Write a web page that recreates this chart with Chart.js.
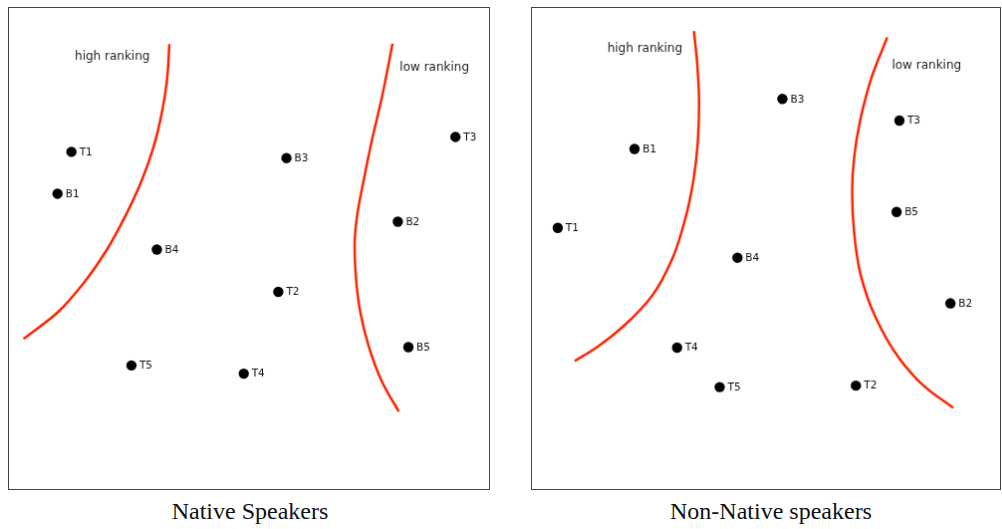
<!DOCTYPE html>
<html>
<head>
<meta charset="utf-8">
<script src="https://cdn.jsdelivr.net/npm/chart.js@4/dist/chart.umd.min.js"></script>
<style>
  body { margin: 0; background: #fff; width: 1002px; height: 529px; position: relative; overflow: hidden; }
  canvas { position: absolute; border: 1px solid #444; box-sizing: content-box; }
  .cap { position: absolute; top: 498px; font-family: "Liberation Serif", "DejaVu Serif", serif; font-size: 24px; color: #111; text-align: center; }
</style>
</head>
<body>
<canvas id="nativeChart" width="482" height="483" style="left:8px;top:7px"></canvas>
<canvas id="nonNativeChart" width="470" height="483" style="left:531px;top:7px"></canvas>
<div class="cap" style="left:8px;width:484px">Native Speakers</div>
<div class="cap" style="left:531px;width:480px">Non-Native speakers</div>
<script>
// Etiquetas de los estímulos
var nativeNames = ['T1', 'B1', 'B4', 'T5', 'T4', 'T2', 'B3', 'B2', 'B5', 'T3'];
var nativeX = [13.0, 10.1, 30.8, 25.5, 48.9, 56.1, 57.8, 81.0, 83.2, 93.0];
var nativeY = [70.1, 61.4, 49.8, 25.7, 24.0, 41.0, 68.8, 55.6, 29.5, 73.2];

var nonNativeNames = ['B3', 'T3', 'B1', 'T1', 'B5', 'B4', 'B2', 'T4', 'T5', 'T2'];
var nonNativeX = [53.5, 78.5, 21.9, 5.5, 77.9, 43.9, 89.4, 31.0, 40.1, 69.2];
var nonNativeY = [81.1, 76.6, 70.7, 54.3, 57.6, 48.1, 38.6, 29.4, 21.2, 21.5];

// Fronteras (curvas rojas)
var nativeHighX = [33.4, 32.9, 31.8, 30.1, 27.7, 24.2, 20.4, 15.6, 10.1, 3.0];
var nativeHighY = [92.5, 84.9, 78.0, 71.1, 64.3, 56.7, 49.8, 42.9, 36.7, 31.2];
var nativeLowX = [79.9, 77.7, 75.6, 73.9, 72.5, 72.0, 72.3, 73.2, 74.9, 77.7, 81.2];
var nativeLowY = [92.6, 81.5, 72.5, 64.3, 56.7, 50.5, 43.6, 36.7, 29.8, 22.3, 16.1];

var nonNativeHighX = [34.6, 35.3, 35.7, 35.4, 34.5, 32.7, 29.9, 25.6, 19.6, 13.9, 9.1];
var nonNativeHighY = [95.2, 88.4, 80.1, 71.8, 64.3, 56.0, 47.7, 40.1, 33.9, 29.5, 26.6];
var nonNativeLowX = [75.9, 72.7, 70.2, 68.8, 68.4, 68.8, 70.2, 73.4, 78.3, 84.0, 90.0];
var nonNativeLowY = [93.9, 86.0, 77.0, 68.7, 61.8, 53.6, 44.6, 35.7, 27.4, 21.2, 16.9];

// Textos de zona: [texto, x, y]
var nativeZones = [['high ranking', 13.7, 89.9], ['low ranking', 81.4, 87.6]];
var nonNativeZones = [['high ranking', 16.1, 91.5], ['low ranking', 76.9, 88.0]];

function pts(xs, ys) {
  return xs.map(function (x, i) { return { x: x, y: ys[i] }; });
}

var labelPlugin = {
  id: 'labels',
  afterDatasetsDraw: function (chart, args, opts) {
    var ctx = chart.ctx;
    ctx.save();
    ctx.fillStyle = '#111';
    ctx.textBaseline = 'middle';
    ctx.textAlign = 'left';
    ctx.font = '10.5px "DejaVu Sans", sans-serif';
    var meta = chart.getDatasetMeta(0);
    meta.data.forEach(function (el, i) {
      ctx.fillText(opts.names[i], el.x + 8, el.y + 0.5);
    });
    ctx.font = '12px "DejaVu Sans", sans-serif';
    ctx.fillStyle = '#222';
    opts.zones.forEach(function (z) {
      ctx.fillText(z[0], chart.scales.x.getPixelForValue(z[1]), chart.scales.y.getPixelForValue(z[2]));
    });
    ctx.restore();
  }
};

function dibujar(id, names, xs, ys, hx, hy, lx, ly, zones) {
  var curva = {
    showLine: true,
    pointRadius: 0,
    borderColor: 'rgb(255, 36, 0)',
    borderWidth: 2.5,
    cubicInterpolationMode: 'monotone',
    clip: false
  };
  new Chart(document.getElementById(id), {
    type: 'scatter',
    data: {
      datasets: [
        {
          data: pts(xs, ys),
          pointRadius: 5.2,
          pointBackgroundColor: '#000',
          pointBorderWidth: 0,
          clip: false
        },
        Object.assign({ data: pts(hx, hy) }, curva),
        Object.assign({ data: pts(lx, ly) }, curva)
      ]
    },
    options: {
      indexAxis: 'y',
      responsive: false,
      animation: false,
      layout: { padding: 0, autoPadding: false },
      plugins: {
        legend: { display: false },
        tooltip: { enabled: false },
        labels: { names: names, zones: zones }
      },
      scales: {
        x: { type: 'linear', min: 0, max: 100, display: false },
        y: { type: 'linear', min: 0, max: 100, display: false }
      }
    },
    plugins: [labelPlugin]
  });
}

dibujar('nativeChart', nativeNames, nativeX, nativeY, nativeHighX, nativeHighY, nativeLowX, nativeLowY, nativeZones);
dibujar('nonNativeChart', nonNativeNames, nonNativeX, nonNativeY, nonNativeHighX, nonNativeHighY, nonNativeLowX, nonNativeLowY, nonNativeZones);
</script>
</body>
</html>
